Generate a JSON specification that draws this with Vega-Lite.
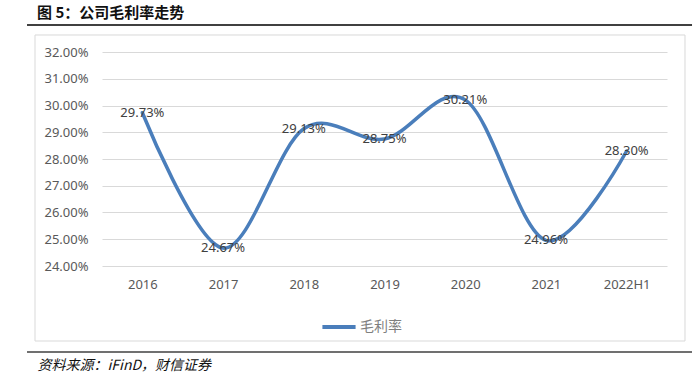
{
  "$schema": "https://vega.github.io/schema/vega-lite/v6.json",
  "width": 565,
  "height": 214,
  "autosize": {"type": "none"},
  "padding": {"left": 102, "top": 52, "right": 31, "bottom": 124},
  "background": "white",
  "config": {"view": {"stroke": null}, "axisY": {"tickCount": 8, "labelOverlap": false}},
  "title": {
    "text": "图 5：公司毛利率走势",
    "anchor": "start",
    "frame": "group",
    "dx": -65,
    "offset": 3,
    "font": "Noto Sans CJK SC",
    "fontSize": 15,
    "fontWeight": "bold",
    "color": "#111111"
  },
  "data": {
    "values": [
      {"idx": 0, "year": "2016", "v": 0.2973},
      {"idx": 1, "year": "2017", "v": 0.2467},
      {"idx": 2, "year": "2018", "v": 0.2913},
      {"idx": 3, "year": "2019", "v": 0.2875},
      {"idx": 4, "year": "2020", "v": 0.3021},
      {"idx": 5, "year": "2021", "v": 0.2496},
      {"idx": 6, "year": "2022H1", "v": 0.2830}
    ]
  },
  "layer": [
    {
      "data": {"values": [{"k": "box"}]},
      "mark": {"type": "rect", "filled": false, "stroke": "#d9d9d9", "strokeWidth": 1},
      "encoding": {
        "x": {
          "datum": -1.33,
          "type": "quantitative",
          "scale": {"domain": [-0.5, 6.5], "nice": false, "zero": false},
          "axis": {
            "values": [0, 1, 2, 3, 4, 5, 6],
            "labelExpr": "['2016','2017','2018','2019','2020','2021','2022H1'][datum.value]",
            "grid": false,
            "ticks": false,
            "domain": false,
            "labelOverlap": false,
            "labelPadding": 12,
            "labelFont": "Noto Sans",
            "labelFontSize": 13,
            "labelColor": "#595959",
            "title": "资料来源：iFinD，财信证券",
            "titleX": -65,
            "titleY": 99,
            "titleAlign": "left",
            "titleAnchor": "start",
            "titleBaseline": "middle",
            "titleFont": "Noto Sans CJK SC",
            "titleFontSize": 14,
            "titleFontWeight": "normal",
            "titleFontStyle": "italic",
            "titleColor": "#111111"
          }
        },
        "x2": {"datum": 6.723},
        "y": {
          "datum": 0.32636,
          "type": "quantitative",
          "scale": {"domain": [0.24, 0.32], "nice": false, "zero": false},
          "axis": {
            "tickCount": 8,
            "format": ".2%",
            "grid": true,
            "gridColor": "#d9d9d9",
            "gridWidth": 1,
            "ticks": false,
            "domain": false,
            "labelOverlap": false,
            "labelPadding": 14,
            "labelFont": "Noto Sans",
            "labelFontSize": 13,
            "labelColor": "#595959",
            "title": null
          }
        },
        "y2": {"datum": 0.21196}
      }
    },
    {
      "data": {"values": [{"k": "top"}]},
      "mark": {"type": "rule", "stroke": "#404040", "strokeWidth": 2},
      "encoding": {
        "x": {"datum": -1.429, "type": "quantitative"},
        "x2": {"datum": 6.81},
        "y": {"datum": 0.33009, "type": "quantitative"}
      }
    },
    {
      "data": {"values": [{"k": "bottom"}]},
      "mark": {"type": "rule", "stroke": "#404040", "strokeWidth": 1.5},
      "encoding": {
        "x": {"datum": -1.429, "type": "quantitative"},
        "x2": {"datum": 6.81},
        "y": {"datum": 0.20785, "type": "quantitative"}
      }
    },
    {
      "mark": {"type": "line", "interpolate": "cardinal", "strokeWidth": 3.5, "strokeCap": "round"},
      "encoding": {
        "x": {"field": "idx", "type": "quantitative"},
        "y": {"field": "v", "type": "quantitative"},
        "color": {
          "datum": "毛利率",
          "type": "nominal",
          "scale": {"range": ["#4a7ebb"]},
          "legend": {
            "title": null,
            "orient": "none",
            "legendX": 218,
            "legendY": 256,
            "symbolType": "stroke",
            "symbolStrokeWidth": 4,
            "symbolSize": 1100,
            "labelFont": "Noto Sans CJK SC",
            "labelFontSize": 14,
            "labelColor": "#7f7f7f",
            "labelOffset": 2
          }
        }
      }
    },
    {
      "mark": {"type": "text", "align": "center", "baseline": "middle", "font": "Noto Sans", "fontSize": 13, "color": "#404040"},
      "encoding": {
        "x": {"field": "idx", "type": "quantitative"},
        "y": {"field": "v", "type": "quantitative"},
        "text": {"field": "v", "type": "quantitative", "format": ".2%"}
      }
    }
  ]
}
